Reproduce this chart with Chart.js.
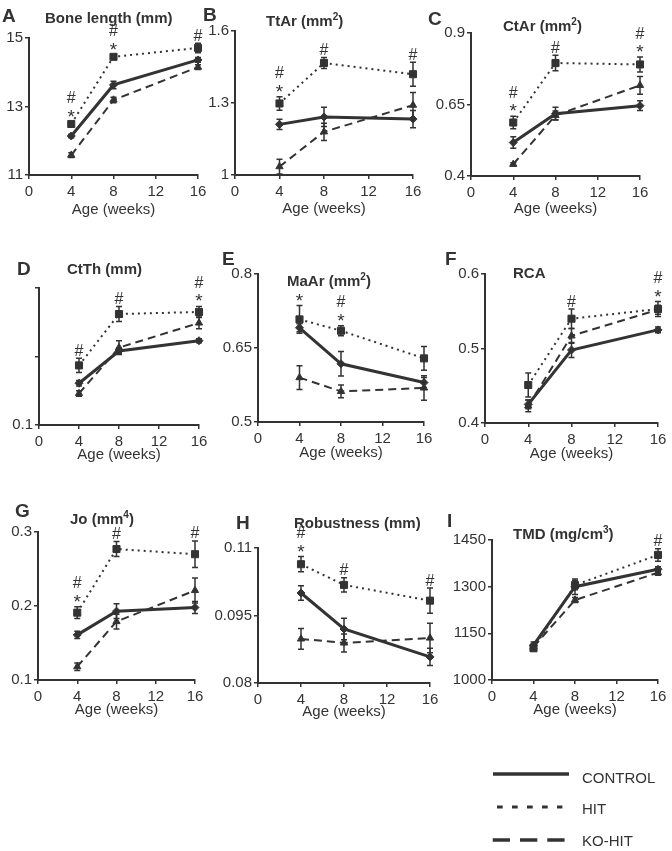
<!DOCTYPE html>
<html><head><meta charset="utf-8">
<script src="https://cdn.jsdelivr.net/npm/chart.js@4.4.1/dist/chart.umd.min.js"></script>
<style>
html,body{margin:0;padding:0;background:#fff}
body{width:672px;height:851px;overflow:hidden;position:relative;font-family:"Liberation Sans",Arial,sans-serif;color:#333}
canvas.c{position:absolute;left:0;top:0}
.lt{position:absolute;font-weight:bold;font-size:19px;line-height:19px;white-space:nowrap}
.tt{position:absolute;font-weight:bold;font-size:15px;line-height:15px;white-space:nowrap}
.tt sup{font-size:10px;line-height:0;vertical-align:6px}
.lg{position:absolute;font-size:15px;line-height:15px;white-space:nowrap}
svg{position:absolute;left:0;top:0}
</style></head>
<body>
<script>
// ---------- data ----------
const ages = [4, 8, 16];
const xTicks = [0, 4, 8, 12, 16];
const seriesNames = ['CONTROL', 'HIT', 'KO-HIT'];

// A Bone length (mm)
const boneCtl = [12.14, 13.63, 14.36], boneCtlErr = [0.05, 0.11, 0.07];
const boneHit = [12.49, 14.45, 14.71], boneHitErr = [0.06, 0.06, 0.14];
const boneKo  = [11.58, 13.19, 14.15], boneKoErr  = [0.07, 0.08, 0.07];
const boneSig = ['#*', '#*', '#'];
const boneTicks = [11, 13, 15], boneTickLabels = ['11', '13', '15'];

// B TtAr (mm2)
const ttCtl = [1.211, 1.242, 1.233], ttCtlErr = [0.021, 0.04, 0.036];
const ttHit = [1.298, 1.467, 1.42],  ttHitErr = [0.028, 0.023, 0.05];
const ttKo  = [1.035, 1.18, 1.291],  ttKoErr  = [0.031, 0.036, 0.053];
const ttSig = ['#*', '#', '#'];
const ttTicks = [1, 1.3, 1.6], ttTickLabels = ['1', '1.3', '1.6'];

// C CtAr (mm2)
const ctCtl = [0.517, 0.618, 0.646], ctCtlErr = [0.02, 0.022, 0.017];
const ctHit = [0.587, 0.795, 0.79],  ctHitErr = [0.022, 0.027, 0.026];
const ctKo  = [0.441, 0.612, 0.717], ctKoErr  = [0.005, 0.015, 0.031];
const ctSig = ['#*', '#', '#*'];
const ctTicks = [0.4, 0.65, 0.9], ctTickLabels = ['0.4', '0.65', '0.9'];

// D CtTh (mm)
const thCtl = [0.161, 0.208, 0.223], thCtlErr = [0.004, 0.004, 0.003];
const thHit = [0.187, 0.262, 0.265], thHitErr = [0.0105, 0.011, 0.008];
const thKo  = [0.146, 0.213, 0.249], thKoErr  = [0.004, 0.01, 0.0085];
const thSig = ['#', '#', '#*'];
const thTicks = [0.1, 0.2, 0.3], thTickLabels = ['0.1', '', ''];

// E MaAr (mm2)
const maCtl = [0.691, 0.618, 0.58],  maCtlErr = [0.008, 0.025, 0.01];
const maHit = [0.708, 0.685, 0.629], maHitErr = [0.028, 0.01, 0.024];
const maKo  = [0.59, 0.562, 0.569],  maKoErr  = [0.024, 0.013, 0.025];
const maSig = ['*', '#*', ''];
const maTicks = [0.5, 0.65, 0.8], maTickLabels = ['0.5', '0.65', '0.8'];

// F RCA
const rcaCtl = [0.425, 0.498, 0.525], rcaCtlErr = [0.006, 0.01, 0.004];
const rcaHit = [0.451, 0.54, 0.553],  rcaHitErr = [0.016, 0.013, 0.01];
const rcaKo  = [0.423, 0.517, 0.552], rcaKoErr  = [0.008, 0.01, 0.006];
const rcaSig = ['', '#', '#*'];
const rcaTicks = [0.4, 0.5, 0.6], rcaTickLabels = ['0.4', '0.5', '0.6'];

// G Jo (mm4)
const joCtl = [0.161, 0.193, 0.198], joCtlErr = [0.005, 0.01, 0.008];
const joHit = [0.191, 0.277, 0.27],  joHitErr = [0.008, 0.01, 0.018];
const joKo  = [0.118, 0.179, 0.221], joKoErr  = [0.005, 0.01, 0.017];
const joSig = ['#*', '#', '#'];
const joTicks = [0.1, 0.2, 0.3], joTickLabels = ['0.1', '0.2', '0.3'];

// H Robustness (mm)
const robCtl = [0.1, 0.092, 0.0858],    robCtlErr = [0.0016, 0.0024, 0.0019];
const robHit = [0.1064, 0.1018, 0.0983], robHitErr = [0.0017, 0.0016, 0.0028];
const robKo  = [0.0898, 0.0889, 0.09],   robKoErr  = [0.0023, 0.002, 0.0033];
const robSig = ['#*', '#', '#'];
const robTicks = [0.08, 0.095, 0.11], robTickLabels = ['0.08', '0.095', '0.11'];

// I TMD (mg/cm3)
const tmdCtl = [1112, 1300, 1356], tmdCtlErr = [10, 25, 8];
const tmdHit = [1102, 1305, 1402], tmdHitErr = [8, 15, 20];
const tmdKo  = [1107, 1257, 1345], tmdKoErr  = [8, 8, 8];
const tmdSig = ['', '', '#'];
const tmdTicks = [1000, 1150, 1300, 1450], tmdTickLabels = ['1000', '1150', '1300', '1450'];

// ---------- layout (page pixels) ----------
const INK = '#333';
const panels = [
  {letter:'A', title:'Bone length (mm)', box:[29,38,198,175], hx:44, letterPos:[2,6], titlePos:[45,10],
   d:[boneCtl,boneHit,boneKo], e:[boneCtlErr,boneHitErr,boneKoErr], sig:boneSig, tv:boneTicks, tl:boneTickLabels},
  {letter:'B', title:'TtAr (mm<sup>2</sup>)', box:[235,31,413,175], hx:43, letterPos:[203,5], titlePos:[266,13],
   d:[ttCtl,ttHit,ttKo], e:[ttCtlErr,ttHitErr,ttKoErr], sig:ttSig, tv:ttTicks, tl:ttTickLabels},
  {letter:'C', title:'CtAr (mm<sup>2</sup>)', box:[471,33,640,176], hx:42, letterPos:[428,9], titlePos:[503,18],
   d:[ctCtl,ctHit,ctKo], e:[ctCtlErr,ctHitErr,ctKoErr], sig:ctSig, tv:ctTicks, tl:ctTickLabels},
  {letter:'D', title:'CtTh (mm)', box:[39,288,199,425], hx:39, letterPos:[17,259], titlePos:[67,261],
   d:[thCtl,thHit,thKo], e:[thCtlErr,thHitErr,thKoErr], sig:thSig, tv:thTicks, tl:thTickLabels},
  {letter:'E', title:'MaAr (mm<sup>2</sup>)', box:[258,274,424,422], hx:40, letterPos:[222,249], titlePos:[287,273],
   d:[maCtl,maHit,maKo], e:[maCtlErr,maHitErr,maKoErr], sig:maSig, tv:maTicks, tl:maTickLabels},
  {letter:'F', title:'RCA', box:[485,274,658,423], hx:40, letterPos:[445,249], titlePos:[513,265],
   d:[rcaCtl,rcaHit,rcaKo], e:[rcaCtlErr,rcaHitErr,rcaKoErr], sig:rcaSig, tv:rcaTicks, tl:rcaTickLabels},
  {letter:'G', title:'Jo (mm<sup>4</sup>)', box:[38,532,195,680], hx:39, letterPos:[15,501], titlePos:[70,511],
   d:[joCtl,joHit,joKo], e:[joCtlErr,joHitErr,joKoErr], sig:joSig, tv:joTicks, tl:joTickLabels},
  {letter:'H', title:'Robustness (mm)', box:[258,548,430,683], hx:38, letterPos:[236,513], titlePos:[294,515],
   d:[robCtl,robHit,robKo], e:[robCtlErr,robHitErr,robKoErr], sig:robSig, tv:robTicks, tl:robTickLabels},
  {letter:'I', title:'TMD (mg/cm<sup>3</sup>)', box:[492,540,658,680], hx:39, letterPos:[447,511], titlePos:[513,526],
   d:[tmdCtl,tmdHit,tmdKo], e:[tmdCtlErr,tmdHitErr,tmdKoErr], sig:tmdSig, tv:tmdTicks, tl:tmdTickLabels}
];

const seriesStyle = [
  {borderWidth:3, borderDash:[], pointStyle:'rectRot', pointRadius:4},
  {borderWidth:2, borderDash:[2,4], pointStyle:'rect', pointRadius:5},
  {borderWidth:2, borderDash:[8,5], pointStyle:'triangle', pointRadius:4.2}
];

const errPlugin = {
  id:'errbars',
  afterDatasetsDraw(chart) {
    const ctx = chart.ctx, ys = chart.scales.y;
    ctx.save();
    ctx.setLineDash([]);
    ctx.strokeStyle = INK; ctx.lineWidth = 1.5; ctx.lineCap = 'butt';
    chart.data.datasets.forEach((ds, i) => {
      const meta = chart.getDatasetMeta(i);
      meta.data.forEach((pt, j) => {
        const v = ds.data[j].y, er = ds.err[j];
        const y1 = ys.getPixelForValue(v + er), y2 = ys.getPixelForValue(v - er);
        ctx.beginPath();
        ctx.moveTo(pt.x, y1); ctx.lineTo(pt.x, y2);
        ctx.moveTo(pt.x - 3, y1); ctx.lineTo(pt.x + 3, y1);
        ctx.moveTo(pt.x - 3, y2); ctx.lineTo(pt.x + 3, y2);
        ctx.stroke();
      });
    });
    ctx.restore();
  }
};

const sigPlugin = {
  id:'sig',
  afterDatasetsDraw(chart, args, opts) {
    const ctx = chart.ctx, ys = chart.scales.y, xs = chart.scales.x;
    const sig = opts.sig || [];
    ctx.save();
    ctx.fillStyle = INK;
    ctx.textAlign = 'center';
    ctx.textBaseline = 'alphabetic';
    sig.forEach((s, j) => {
      if (!s) return;
      let top = Infinity;
      chart.data.datasets.forEach(ds => {
        top = Math.min(top, ys.getPixelForValue(ds.data[j].y + ds.err[j]));
      });
      const x = xs.getPixelForValue(ages[j]);
      s.split('').reverse().forEach((ch, k) => {
        ctx.font = (ch === '*' ? '19px' : '16px') + ' "Liberation Sans", Arial, sans-serif';
        const m = ctx.measureText(ch);
        const c = top - 8.5 - k * 16;
        const base = c + (m.actualBoundingBoxAscent - m.actualBoundingBoxDescent) / 2;
        ctx.fillText(ch, x, base);
      });
    });
    ctx.restore();
  }
};

const FONT = {family:'"Liberation Sans", Arial, sans-serif', size:15};

panels.forEach(p => {
  const [L, T, R, B] = p.box;
  const Wy = Math.min(L, 48);
  const cv = document.createElement('canvas');
  cv.width = 672; cv.height = 851; cv.className = 'c';
  document.body.appendChild(cv);
  const datasets = p.d.map((vals, i) => Object.assign({
    label: seriesNames[i],
    data: ages.map((a, j) => ({x:a, y:vals[j]})),
    err: p.e[i],
    borderColor: INK, backgroundColor: INK, pointBackgroundColor: INK, pointBorderColor: INK,
    pointBorderWidth: 1, borderCapStyle:'butt', tension: 0, clip: false, fill:false
  }, seriesStyle[i]));
  new Chart(cv, {
    type:'line',
    data:{datasets},
    options:{
      responsive:false, animation:false, devicePixelRatio:1,
      layout:{padding:{left:L - Wy, top:T, right:672 - R, bottom:851 - B - p.hx}},
      plugins:{legend:{display:false}, tooltip:{enabled:false}, sig:{sig:p.sig}},
      scales:{
        x:{type:'linear', min:0, max:16,
           afterBuildTicks: s => { s.ticks = xTicks.map(v => ({value:v})); },
           afterFit: s => { s.height = p.hx; },
           ticks:{font:FONT, color:INK, padding:4, maxRotation:0, autoSkip:false},
           grid:{drawOnChartArea:false, drawTicks:true, tickLength:4, color:INK, lineWidth:1.5},
           border:{display:true, color:INK, width:2},
           title:{display:true, text:'Age (weeks)', font:FONT, color:INK, padding:0}},
        y:{type:'linear', min:p.tv[0], max:p.tv[p.tv.length - 1],
           afterBuildTicks: s => { s.ticks = p.tv.map(v => ({value:v})); },
           afterFit: s => { s.width = Wy; },
           ticks:{font:FONT, color:INK, padding:2, autoSkip:false, callback:(v, i) => p.tl[i]},
           grid:{drawOnChartArea:false, drawTicks:true, tickLength:4, color:INK, lineWidth:1.5},
           border:{display:true, color:INK, width:2}}
      }
    },
    plugins:[errPlugin, sigPlugin]
  });
  const lt = document.createElement('div');
  lt.className = 'lt'; lt.textContent = p.letter;
  lt.style.left = p.letterPos[0] + 'px'; lt.style.top = p.letterPos[1] + 'px';
  document.body.appendChild(lt);
  const tt = document.createElement('div');
  tt.className = 'tt'; tt.innerHTML = p.title;
  tt.style.left = p.titlePos[0] + 'px'; tt.style.top = p.titlePos[1] + 'px';
  document.body.appendChild(tt);
});
</script>
<svg width="672" height="851">
  <line x1="493" y1="774" x2="569" y2="774" stroke="#333" stroke-width="3.3"/>
  <line x1="497" y1="807" x2="562.4" y2="807" stroke="#333" stroke-width="3" stroke-dasharray="5.7 9.3"/>
  <line x1="492.7" y1="840" x2="565" y2="840" stroke="#333" stroke-width="3.3" stroke-dasharray="17.3 10"/>
</svg>
<div class="lg" style="left:582px;top:770px">CONTROL</div>
<div class="lg" style="left:582px;top:801px">HIT</div>
<div class="lg" style="left:582px;top:833px">KO-HIT</div>
</body></html>
